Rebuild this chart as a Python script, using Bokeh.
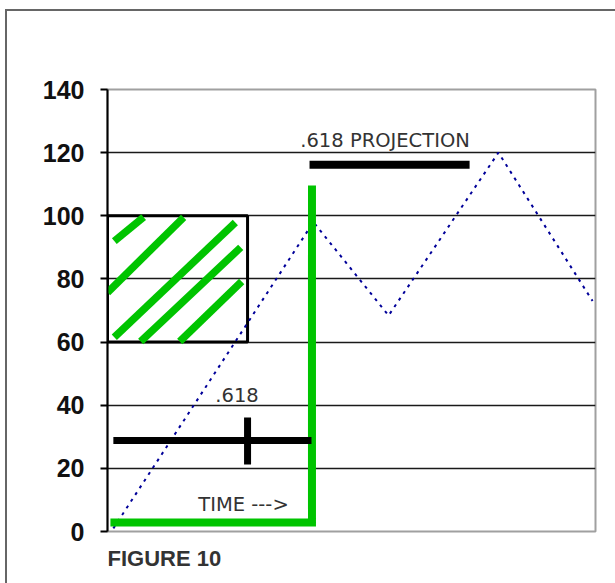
from bokeh.plotting import figure
from bokeh.models import FixedTicker, Title
from bokeh.core.properties import value
from bokeh.embed import file_html
from bokeh.resources import INLINE

# ---- data ----
y_ticks = [0, 20, 40, 60, 80, 100, 120, 140]
grid_levels = [20, 40, 60, 80, 100, 120]

price_x = [1.2, 42.2, 57.6, 80.1, 99.4]
price_y = [1.0, 98.0, 68.4, 120.0, 73.0]

green_l_x = [0.6, 41.9, 41.9]
green_l_y = [2.85, 2.85, 109.6]

time_bar_x = [1.2, 41.8]
time_bar_y = [28.8, 28.8]
time_tick_x = [28.7, 28.7]
time_tick_y = [21.2, 36.1]

proj_bar_x = [41.4, 74.2]
proj_bar_y = [116.2, 116.2]

box_left, box_right, box_bottom, box_top = 0.0, 28.7, 60.0, 100.0

hatch_xs = [[1.4, 7.4], [0.0, 15.6], [1.4, 26.2], [6.8, 27.3], [14.8, 27.5]]
hatch_ys = [[92.0, 99.6], [75.7, 99.5], [61.5, 97.9], [60.2, 90.0], [60.2, 79.2]]

label_texts = [".618 PROJECTION", ".618", "TIME --->"]
label_x = [39.5, 22.1, 18.6]
label_y = [123.9, 43.1, 8.6]

figure_caption = "FIGURE 10"

GREEN = "#00c400"

p = figure(width=615, height=583, x_range=(0, 100), y_range=(0, 140),
           output_backend="svg", toolbar_location=None, x_axis_location=None,
           min_border_left=107, min_border_right=20, min_border_top=89,
           min_border_bottom=52, background_fill_color="white",
           border_fill_alpha=0)
p.styles = {
    "background": ("linear-gradient(#666666, #666666) 5px 9px / 2px calc(100% - 9px) no-repeat, "
                   "linear-gradient(#666666, #666666) 5px 9px / calc(100% - 5px) 2px no-repeat, "
                   "#ffffff"),
}

p.outline_line_color = "#a0a0a0"
p.outline_line_width = 2

p.xgrid.visible = False
p.ygrid.ticker = FixedTicker(ticks=grid_levels)
p.ygrid.grid_line_color = "#1a1a1a"
p.ygrid.grid_line_width = 1.5

ax = p.yaxis[0]
ax.ticker = FixedTicker(ticks=y_ticks)
ax.axis_line_color = "black"
ax.axis_line_width = 2
ax.major_tick_line_color = "black"
ax.major_tick_line_width = 2
ax.major_tick_out = 7
ax.major_tick_in = 0
ax.minor_tick_line_color = None
ax.major_label_standoff = 16
ax.major_label_text_font = "Liberation Sans"
ax.major_label_text_font_style = "bold"
ax.major_label_text_font_size = "25px"
ax.major_label_text_color = "#111111"

# hatched box
p.quad(left=[box_left], right=[box_right], bottom=[box_bottom], top=[box_top],
       fill_color=None, line_color="black", line_width=3)
p.multi_line(xs=hatch_xs, ys=hatch_ys, line_color=GREEN, line_width=7.5)

# price path
p.line(price_x, price_y, line_color="#000099", line_width=2, line_dash="3 5")

# green L
p.line(green_l_x, green_l_y, line_color=GREEN, line_width=8, line_join="miter")

# time bar and .618 tick
p.line(time_bar_x, time_bar_y, line_color="black", line_width=7)
p.line(time_tick_x, time_tick_y, line_color="black", line_width=7)

# projection bar
p.line(proj_bar_x, proj_bar_y, line_color="black", line_width=8)

p.text(x=label_x, y=label_y, text=label_texts, text_font=value("DejaVu Sans"),
       text_font_size="19.5px", text_color="#333333", text_baseline="alphabetic",
       text_align="left")

cap = Title(text=figure_caption, align="left", text_font="Liberation Sans",
            text_font_style="bold", text_font_size="22px", text_color="#333333",
            standoff=24)
p.add_layout(cap, "below")

open("out.html", "w").write(file_html(p, INLINE))
